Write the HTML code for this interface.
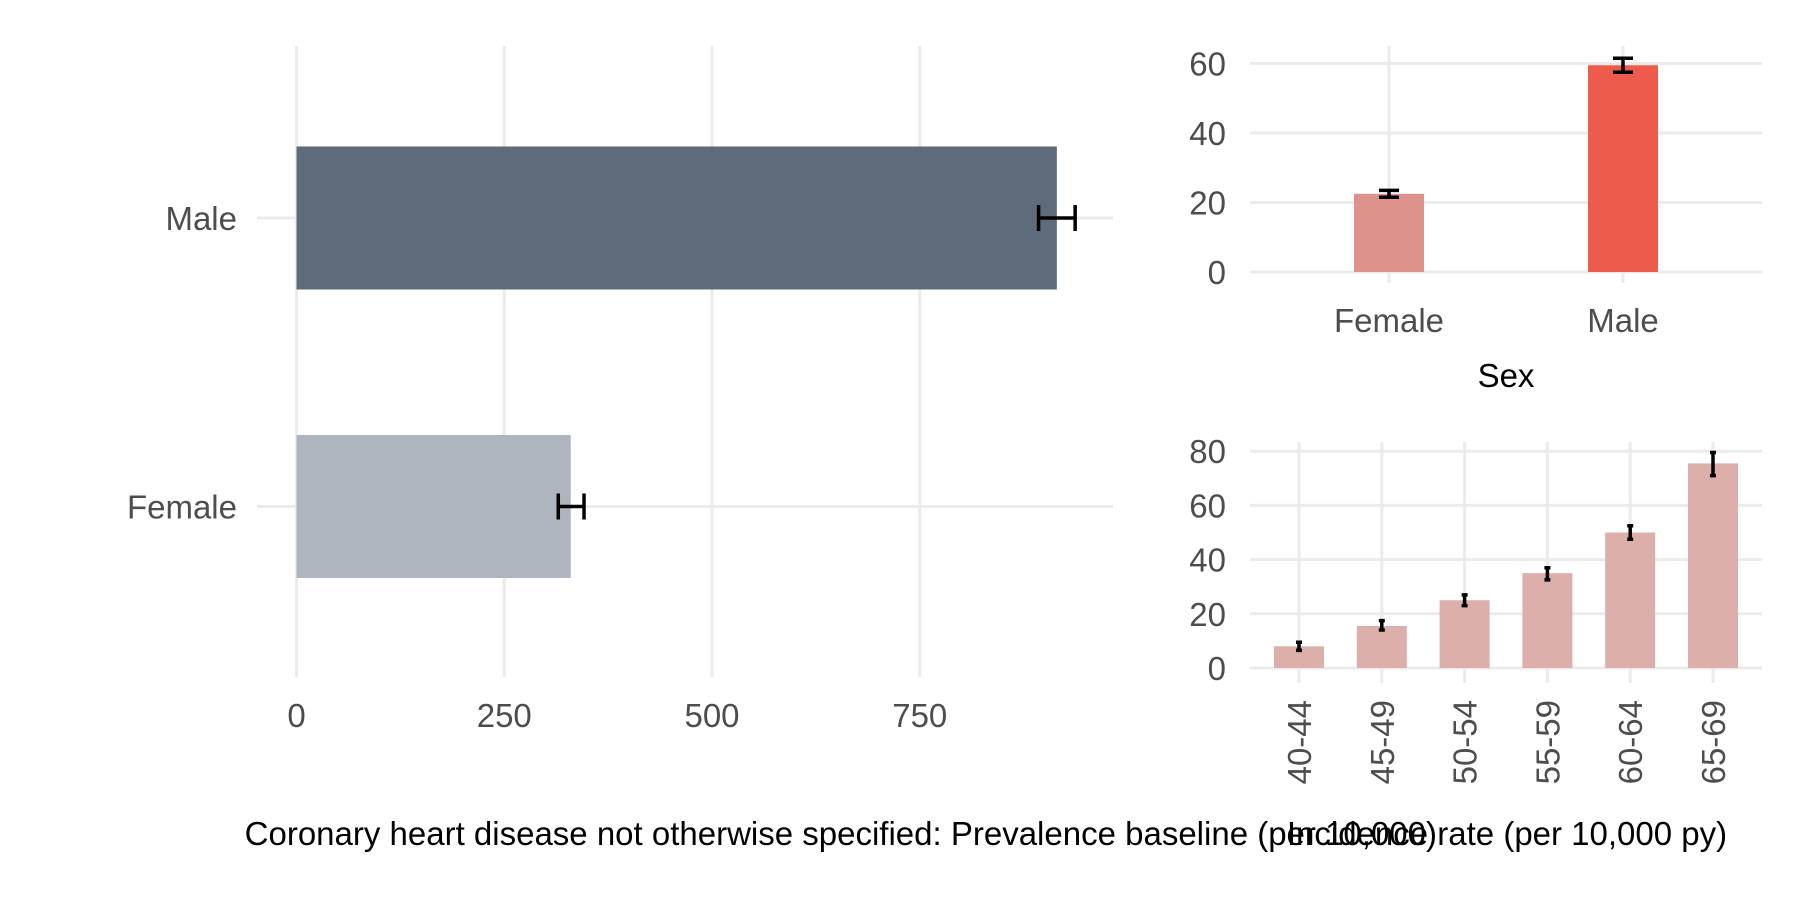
<!DOCTYPE html>
<html><head><meta charset="utf-8"><style>body{margin:0;background:#fff}svg{display:block}</style></head>
<body>
<svg id="c" width="1800" height="900" xmlns="http://www.w3.org/2000/svg" font-family="Liberation Sans, sans-serif"></svg>
<script>
const prevCats = ["Female","Male"];
const prevVals = [330, 915];
const prevLo = [315, 893];
const prevHi = [346, 937];
const prevTicks = [0,250,500,750];

const sexCats = ["Female","Male"];
const sexVals = [22.5, 59.5];
const sexLo = [21.5, 57.5];
const sexHi = [23.5, 61.5];
const sexTicks = [0,20,40,60];

const ageCats = ["40-44","45-49","50-54","55-59","60-64","65-69"];
const ageVals = [8, 15.5, 25, 35, 50, 75.5];
const ageLo = [6.5, 14, 23, 32.5, 47.5, 71];
const ageHi = [9.5, 17.5, 27, 37, 52.5, 79.5];
const ageTicks = [0,20,40,60,80];

const svg = document.getElementById('c');
const NS = 'http://www.w3.org/2000/svg';
function mk(tag, attrs, parent){const e=document.createElementNS(NS,tag);for(const k in attrs)e.setAttribute(k,attrs[k]);(parent||svg).appendChild(e);return e;}
const GRID='#ebebeb', TXT='#4d4d4d';

// Left panel
const lx = v => 296.5 + v*0.831;
const ly = i => [506.5, 218][i];
for (const t of prevTicks){
  const g = mk('line',{x1:lx(t),x2:lx(t),y1:46,y2:677,stroke:GRID,'stroke-width':3});
  
  
  const tx = mk('text',{x:lx(t),y:727,'text-anchor':'middle','font-size':33,fill:TXT});
  tx.textContent=t;
  
  
}
prevCats.forEach((c,i)=>{
  const g = mk('line',{x1:257,x2:1113,y1:ly(i),y2:ly(i),stroke:GRID,'stroke-width':3});
  
  
});
prevCats.forEach((c,i)=>{
  const b = mk('rect',{x:lx(0),y:ly(i)-71.5,width:lx(prevVals[i])-lx(0),height:143,fill:i?'#5d6b7b':'#aeb5be'});
  
  
  const e = mk('path',{d:`M${lx(prevLo[i])},${ly(i)-13}V${ly(i)+13}M${lx(prevLo[i])},${ly(i)}H${lx(prevHi[i])}M${lx(prevHi[i])},${ly(i)-13}V${ly(i)+13}`,stroke:'#000','stroke-width':3.5,fill:'none'});
  
  
  const t = mk('text',{x:237,y:ly(i)+12,'text-anchor':'end','font-size':33,fill:TXT});
  t.textContent=c;
  
  
});

// Top right
const sy = v => 272 - v*(69.5/20);
const sx = i => [1389,1623][i];
for (const t of sexTicks){
  const g = mk('line',{x1:1250,x2:1762,y1:sy(t),y2:sy(t),stroke:GRID,'stroke-width':3});
  
  
  const tx = mk('text',{x:1226,y:sy(t)+12,'text-anchor':'end','font-size':33,fill:TXT});
  tx.textContent=t;
  
  
}
sexCats.forEach((c,i)=>{
  const g = mk('line',{x1:sx(i),x2:sx(i),y1:46,y2:283,stroke:GRID,'stroke-width':3});
  
  
});
sexCats.forEach((c,i)=>{
  const b = mk('rect',{x:sx(i)-35,y:sy(sexVals[i]),width:70,height:sy(0)-sy(sexVals[i]),fill:i?'#ec5b4b':'#dd928b'});
  
  
  const e = mk('path',{d:`M${sx(i)-10},${sy(sexHi[i])}H${sx(i)+10}M${sx(i)},${sy(sexHi[i])}V${sy(sexLo[i])}M${sx(i)-10},${sy(sexLo[i])}H${sx(i)+10}`,stroke:'#000','stroke-width':3.5,fill:'none'});
  
  
  const t = mk('text',{x:sx(i),y:332,'text-anchor':'middle','font-size':33,fill:TXT});
  t.textContent=c;
  
  
});
const st = mk('text',{x:1506,y:387,'text-anchor':'middle','font-size':33,fill:'#000'});
st.textContent='Sex';



// Bottom right
const ay = v => 668 - v*(54.2/20);
const ax = i => 1299 + i*82.8;
for (const t of ageTicks){
  const g = mk('line',{x1:1250,x2:1762,y1:ay(t),y2:ay(t),stroke:GRID,'stroke-width':3});
  
  
  const tx = mk('text',{x:1226,y:ay(t)+12,'text-anchor':'end','font-size':33,fill:TXT});
  tx.textContent=t;
  
  
}
ageCats.forEach((c,i)=>{
  const g = mk('line',{x1:ax(i),x2:ax(i),y1:442,y2:683,stroke:GRID,'stroke-width':3});
  
  
});
ageCats.forEach((c,i)=>{
  const b = mk('rect',{x:ax(i)-25,y:ay(ageVals[i]),width:50,height:ay(0)-ay(ageVals[i]),fill:'#dcafaa'});
  
  
  const e = mk('path',{d:`M${ax(i)-3},${ay(ageHi[i])}H${ax(i)+3}M${ax(i)},${ay(ageHi[i])}V${ay(ageLo[i])}M${ax(i)-3},${ay(ageLo[i])}H${ax(i)+3}`,stroke:'#000','stroke-width':3.5,fill:'none'});
  
  
  const t = mk('text',{x:0,y:0,'text-anchor':'end','font-size':33,fill:TXT,transform:`translate(${ax(i)+12},700) rotate(-90)`});
  t.textContent=c;
  
  
});

// captions
const c1 = mk('text',{x:1437,y:845,'text-anchor':'end','font-size':33,fill:'#000'});
c1.textContent='Coronary heart disease not otherwise specified: Prevalence baseline (per 10,000)';


const c2 = mk('text',{x:1507,y:845,'text-anchor':'middle','font-size':33,fill:'#000'});
c2.textContent='Incidence rate (per 10,000 py)';


</script>
</body></html>
